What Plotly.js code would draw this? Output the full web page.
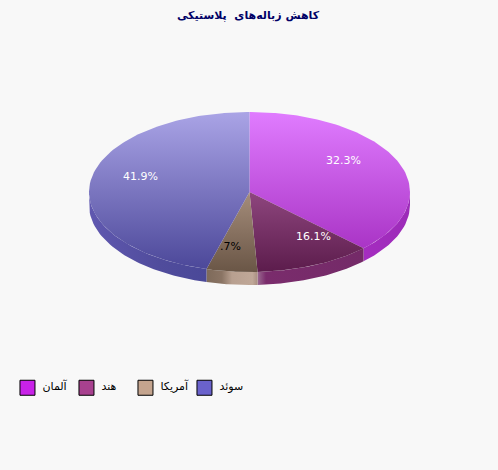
<!DOCTYPE html>
<html><head><meta charset="utf-8">
<script src="https://cdn.plot.ly/plotly-3.0.0.min.js"></script>
<style>html,body{margin:0;padding:0;background:#f8f8f8}</style>
</head><body><div id="chart" style="width:498px;height:470px"></div>
<script>
const titleText = 'کاهش زباله‌های  پلاستیکی';
const categories = ['آلمان', 'هند', 'آمریکا', 'سوئد'];
const shares = [32.3, 16.1, 9.7, 41.9];
const shownLabels = ['32.3%', '16.1%', '.7%', '41.9%'];
const labelColors = ['#ffffff', '#ffffff', '#000000', '#ffffff'];
const labelShiftX = [-4, -2, 4, 3];
const labelShiftY = [1, 3, 2, 1];
const legendColors = ['#c822e8', '#a8418f', '#c4a48e', '#6a62cc'];
const topTones = [
  ['#e07cff', '#a028bc'],
  ['#c070b0', '#5c1c4c'],
  ['#e0c4b0', '#6a5646'],
  ['#aaa4e6', '#4a4698']
];
const sideTones = [
  [[0, '#a52cc0'], [1, '#9c2cb8']],
  [[0, '#9a6a90'], [0.08, '#7a2c6c'], [1, '#742a68']],
  [[0, '#7e6a5a'], [0.3, '#8a7464'], [0.5, '#b8a090'], [0.9, '#c0a898'], [1, '#a88e80']],
  [[0, '#6058b0'], [0.6, '#504c9c'], [1, '#4a4898']]
];

const cx = 249.5, cy = 192, rx = 160.5, ry = 80, depth = 13, labelRadius = 0.72;
const rad = d => d * Math.PI / 180;
function rim(deg) {
  const s = Math.sin(rad(deg)), c = Math.cos(rad(deg));
  const r = 1 / Math.sqrt((s / rx) ** 2 + (c / ry) ** 2);
  return [cx + r * s, cy - r * c];
}
function sweep(a, b) {
  const out = [];
  for (let d = a; d < b; d += 1) out.push(rim(d));
  out.push(rim(b));
  return out;
}
const traces = [], notes = [];
let from = 0;
const spans = shares.map(v => { const a = from; from += v * 3.6; return [a, from]; });

spans.forEach(([a, b], i) => {
  const lo = Math.max(a, 90), hi = Math.min(b, 270);
  if (hi <= lo) return;
  const edge = sweep(lo, hi);
  const pts = edge.concat(edge.slice().reverse().map(p => [p[0], p[1] + depth]));
  const xs = pts.map(p => p[0]);
  traces.push({
    type: 'scatter', mode: 'lines', showlegend: false, hoverinfo: 'skip',
    x: xs.concat(xs[0]), y: pts.map(p => p[1]).concat(pts[0][1]),
    line: {width: 0}, fill: 'toself',
    fillgradient: {type: 'horizontal', colorscale: sideTones[i],
      start: Math.min(...xs), stop: Math.max(...xs)}
  });
});
spans.forEach(([a, b], i) => {
  const pts = [[cx, cy]].concat(sweep(a, b), [[cx, cy]]);
  traces.push({
    type: 'scatter', mode: 'lines', showlegend: false, hoverinfo: 'skip',
    x: pts.map(p => p[0]), y: pts.map(p => p[1]),
    line: {width: 0}, fill: 'toself',
    fillgradient: {type: 'vertical', colorscale: [[0, topTones[i][0]], [1, topTones[i][1]]],
      start: cy - ry, stop: cy + ry}
  });
  const mid = rad((a + b) / 2);
  notes.push({
    x: cx + rx * labelRadius * Math.sin(mid), y: cy - ry * labelRadius * Math.cos(mid),
    xshift: labelShiftX[i], yshift: labelShiftY[i], text: shownLabels[i], showarrow: false,
    font: {color: labelColors[i], size: 11, family: 'DejaVu Sans, sans-serif'}
  });
});
categories.forEach((name, i) => {
  traces.push({
    type: 'scatter', mode: 'markers', name, x: [null], y: [null], hoverinfo: 'skip',
    marker: {symbol: 'square', size: 15, color: legendColors[i], line: {color: '#000000', width: 1}}
  });
});

Plotly.newPlot('chart', traces, {
  width: 498, height: 470, margin: {l: 0, r: 0, t: 0, b: 0},
  paper_bgcolor: '#f8f8f8', plot_bgcolor: '#f8f8f8',
  title: {text: titleText, x: 0.498, xanchor: 'center', y: 0.968, yanchor: 'middle',
    font: {family: 'DejaVu Sans, sans-serif', size: 11, color: '#000066', weight: 'bold'}},
  xaxis: {visible: false, range: [0, 498], fixedrange: true},
  yaxis: {visible: false, range: [470, 0], fixedrange: true},
  annotations: notes,
  showlegend: true,
  legend: {orientation: 'h', x: 0.015, xanchor: 'left', y: 0.175, yanchor: 'middle',
    entrywidth: 14, entrywidthmode: 'pixels', traceorder: 'normal', itemsizing: 'trace',
    bgcolor: 'rgba(0,0,0,0)', font: {family: 'DejaVu Sans, sans-serif', size: 11, color: '#000000'}}
}, {displayModeBar: false, staticPlot: true}).then(() => {
  document.querySelectorAll('#chart .legendtext').forEach(t => {
    t.setAttribute('x', parseFloat(t.getAttribute('x')) - 5);
    t.setAttribute('y', parseFloat(t.getAttribute('y')) - 2);
  });
});
</script></body></html>
